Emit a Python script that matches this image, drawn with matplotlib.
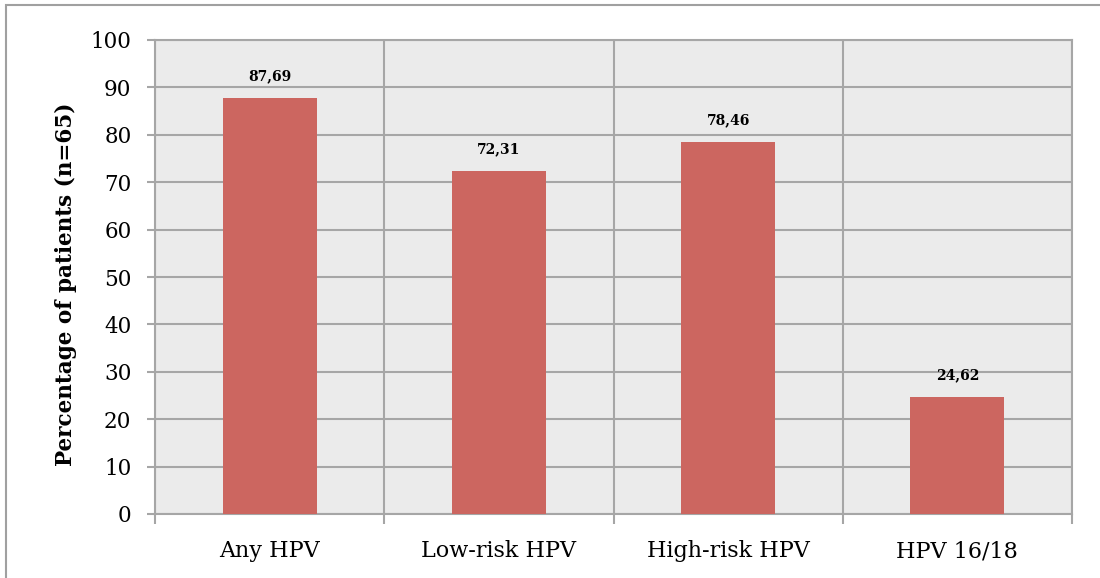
import matplotlib.pyplot as plt
from matplotlib.patches import Rectangle

categories = ['Any HPV', 'Low-risk HPV', 'High-risk HPV', 'HPV 16/18']
values = [87.69, 72.31, 78.46, 24.62]
labels = ['87,69', '72,31', '78,46', '24,62']

BAR = '#cc6660'
GRID = '#a6a6a6'

plt.rcParams['font.family'] = ['DejaVu Serif']

fig = plt.figure(figsize=(11, 5.78), dpi=100)
ax = fig.add_axes([155/1100, 1 - 514/578, (1072-155)/1100, (514-40)/578])
ax.set_facecolor('#ebebeb')

x = list(range(len(categories)))
ax.bar(x, values, width=0.41, color=BAR, zorder=3)
for xi, v, lab in zip(x, values, labels):
    ax.annotate(lab, (xi, v), xytext=(0, 11), textcoords='offset points',
                ha='center', va='bottom', fontsize=10, fontweight='bold')

ax.set_xlim(-0.5, 3.5)
ax.set_ylim(0, 100)
ax.set_yticks(range(0, 101, 10))
ax.set_xticks(x)
ax.set_xticklabels(categories, fontsize=16)
ax.tick_params(axis='x', length=0, pad=19)
ax.tick_params(axis='y', labelsize=15.5, length=6, color=GRID, width=1.5, pad=11)
ax.set_xticks([-0.5, 0.5, 1.5, 2.5, 3.5], minor=True)
ax.tick_params(axis='x', which='minor', length=7, color=GRID, width=1.5)

ax.grid(axis='y', color=GRID, lw=1.5, zorder=1)
ax.grid(axis='x', which='minor', color=GRID, lw=1.5, zorder=1)
ax.set_axisbelow(True)
for sp in ax.spines.values():
    sp.set_color(GRID)
    sp.set_linewidth(1.5)

ax.set_ylabel('Percentage of patients (n=65)', fontsize=15.5, fontweight='bold')
ax.yaxis.set_label_coords(-0.085, 0.485)

# outer chart border
fig.patches.append(Rectangle((6/1100, -0.1), 1.2, 0.1 + 1 - 5/578, transform=fig.transFigure,
                             fill=False, edgecolor='#a0a0a0', lw=1.5))

fig.savefig('out.png', dpi=100)
